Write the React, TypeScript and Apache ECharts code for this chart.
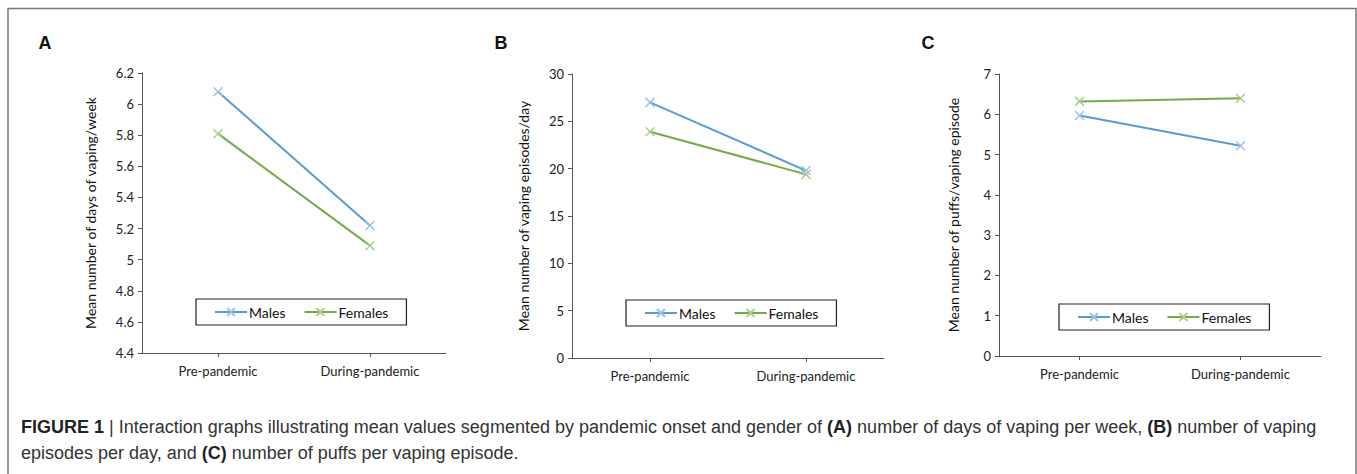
import React, { useEffect, useRef } from "react";
import * as echarts from "echarts";

const categories = ["Pre-pandemic", "During-pandemic"];
const seriesNames = ["Males", "Females"];

const daysMales = [6.08, 5.22];
const daysFemales = [5.81, 5.09];
const episodesMales = [27.0, 19.8];
const episodesFemales = [23.9, 19.4];
const puffsMales = [5.97, 5.22];
const puffsFemales = [6.32, 6.4];

const yNames = [
  "Mean number of days of vaping/week",
  "Mean number of vaping episodes/day",
  "Mean number of puffs/vaping episode",
];
const panelLetters = ["A", "B", "C"];
const captionLine1 = [
  ["b", "FIGURE 1"],
  ["n", " | Interaction graphs illustrating mean values segmented by pandemic onset and gender of "],
  ["b", "(A)"],
  ["n", " number of days of vaping per week, "],
  ["b", "(B)"],
  ["n", " number of vaping"],
];
const captionLine2 = [
  ["n", "episodes per day, and "],
  ["b", "(C)"],
  ["n", " number of puffs per vaping episode."],
];

const BLUE = "#5b9bd5";
const GREEN = "#70ad47";
const BLUE_L = "#9dc3e6";
const GREEN_L = "#a9d18e";
const AXIS = "#555555";
const FONT = "Lato, 'Open Sans', sans-serif";
const XSYM = "path://M0,0L10,10M10,0L0,10";

export default function App() {
  const ref = useRef<HTMLDivElement>(null);
  useEffect(() => {
    if (!ref.current) return;
    const chart = echarts.init(ref.current, null, { renderer: "svg" });

    const grids = [
      { left: 142, top: 73, width: 304, height: 280 },
      { left: 572, top: 74, width: 312, height: 284 },
      { left: 999, top: 74, width: 322, height: 282 },
    ];
    const yRanges = [
      { min: 4.4, max: 6.2, interval: 0.2 },
      { min: 0, max: 30, interval: 5 },
      { min: 0, max: 7, interval: 1 },
    ];
    const nameGaps = [45, 42, 39];
    const legends = [
      { left: 196, top: 299, width: 197, height: 26 },
      { left: 626, top: 300, width: 203, height: 29 },
      { left: 1059, top: 304, width: 202, height: 28 },
    ];
    const dataSets = [
      [daysMales, daysFemales],
      [episodesMales, episodesFemales],
      [puffsMales, puffsFemales],
    ];

    const rich = {
      b: { fontWeight: "bold", fontSize: 18, fontFamily: "'Liberation Sans', Arial, sans-serif", fill: "#222" },
      n: { fontSize: 18, fontFamily: "'Liberation Sans', Arial, sans-serif", fill: "#333" },
    };
    const toRich = (parts: string[][]) => parts.map(([k, t]) => `{${k}|${t}}`).join("");

    const series: any[] = [];
    dataSets.forEach((ds, i) => {
      ds.forEach((vals, j) => {
        const line = j === 0 ? BLUE : GREEN;
        const light = j === 0 ? BLUE_L : GREEN_L;
        series.push({
          type: "line",
          name: seriesNames[j],
          xAxisIndex: i,
          yAxisIndex: i,
          data: vals,
          symbol: XSYM,
          symbolSize: 9,
          showAllSymbol: true,
          lineStyle: { color: line, width: 2 },
          itemStyle: { color: "none", borderColor: light, borderWidth: 1.5 },
          emphasis: { disabled: true },
          z: j === 0 ? 3 : 2,
        });
      });
    });

    const option: any = {
      animation: false,
      grid: grids.map((g) => ({ ...g, containLabel: false })),
      xAxis: grids.map((_, i) => ({
        type: "category",
        gridIndex: i,
        data: categories,
        boundaryGap: true,
        axisLine: { lineStyle: { color: AXIS, width: 1 } },
        axisTick: { show: true, alignWithLabel: true, length: 4, lineStyle: { color: AXIS } },
        axisLabel: { fontFamily: FONT, fontSize: 13, color: "#222", margin: 11 },
        splitLine: { show: false },
      })),
      yAxis: grids.map((_, i) => ({
        type: "value",
        gridIndex: i,
        ...yRanges[i],
        name: yNames[i],
        nameLocation: "middle",
        nameGap: nameGaps[i],
        nameRotate: 90,
        nameTextStyle: { fontFamily: FONT, fontSize: 14, color: "#111" },
        axisLine: { show: true, lineStyle: { color: AXIS, width: 1 } },
        axisTick: { show: true, length: 4, lineStyle: { color: AXIS } },
        axisLabel: { fontFamily: FONT, fontSize: 13, color: "#222", margin: 8 },
        splitLine: { show: false },
      })),
      legend: legends.map((l) => ({
        left: l.left,
        top: l.top,
        width: l.width,
        height: l.height,
        data: seriesNames,
        orient: "horizontal",
        borderColor: "#222",
        borderWidth: 1.2,
        backgroundColor: "#fff",
        padding: [6, 18, 6, 18],
        itemGap: 18,
        itemWidth: 32,
        itemHeight: 10,
        selectedMode: false,
        textStyle: { fontFamily: FONT, fontSize: 14, color: "#111", padding: [0, 0, 0, -3] },
      })),
      series,
      graphic: [
        {
          type: "polyline",
          shape: { points: [[8, 474], [8, 8.5], [1356, 8.5], [1356, 474]] },
          style: { stroke: "#7a7a7a", lineWidth: 1.5, fill: "none" },
          silent: true,
        },
        ...panelLetters.map((t, i) => ({
          type: "text",
          x: [45, 501, 928][i],
          y: 43,
          style: {
            text: t,
            fontSize: 18,
            fontWeight: "bold",
            fontFamily: "'Liberation Sans', Arial, sans-serif",
            fill: "#111",
            align: "center",
            verticalAlign: "middle",
          },
        })),
        {
          type: "text",
          x: 21,
          y: 427,
          style: { text: toRich(captionLine1), rich, verticalAlign: "middle", align: "left" },
        },
        {
          type: "text",
          x: 21,
          y: 453,
          style: { text: toRich(captionLine2), rich, verticalAlign: "middle", align: "left" },
        },
      ],
    };
    chart.setOption(option);
    return () => chart.dispose();
  }, []);

  return (
    <div
      ref={ref}
      style={{ position: "absolute", left: 0, top: 0, width: 1357, height: 474, background: "#fff" }}
    />
  );
}
